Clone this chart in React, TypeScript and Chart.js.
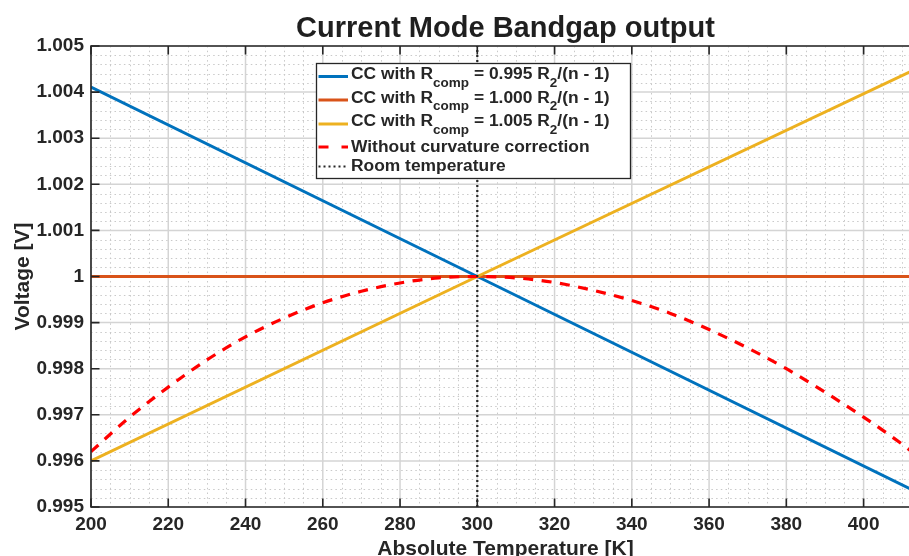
import React, { useEffect, useRef } from 'react';
import { Chart, registerables } from 'chart.js';

Chart.register(...registerables);

// ---------- data ----------
const X_MIN = 200;
const X_MAX = 414.6;
const Y_MIN = 0.995;
const Y_MAX = 1.005;

const blueT = [200, 300, 414.6];
const blueV = [1.00411, 1.0, 0.99529];

const orangeT = [200, 414.6];
const orangeV = [1.0, 1.0];

const yellowT = [200, 300, 414.6];
const yellowV = [0.996, 1.0, 1.00454];

const redT = [200, 210, 220, 230, 240, 250, 260, 270, 280, 290, 300, 310, 320, 330, 340, 350, 360, 370, 380, 390, 400, 410, 414.6];
const redV = [0.9962, 0.99695, 0.9976, 0.99819, 0.99869, 0.9991, 0.99943, 0.99968, 0.99986, 0.99997, 1.0, 0.99997, 0.99987, 0.9997, 0.99948, 0.9992, 0.99885, 0.99845, 0.998, 0.99749, 0.99695, 0.99636, 0.99606];

const roomT = [300, 300];
const roomV = [0.995, 1.005];

const xTicks = [200, 220, 240, 260, 280, 300, 320, 340, 360, 380, 400];
const yTicks = [0.995, 0.996, 0.997, 0.998, 0.999, 1, 1.001, 1.002, 1.003, 1.004, 1.005];
const xMinorStep = 5;
const yMinorCount = 50; // 0.0002 steps

const titleText = 'Current Mode Bandgap output';
const xTitle = 'Absolute Temperature [K]';
const yTitle = 'Voltage [V]';

type Seg = { t: string; sub?: boolean };
const legendRows: { segs: Seg[]; color: string; kind: 'solid' | 'dash' | 'dot' }[] = [
  { segs: [{ t: 'CC with R' }, { t: 'comp', sub: true }, { t: ' = 0.995 R' }, { t: '2', sub: true }, { t: '/(n - 1)' }], color: '#0072BD', kind: 'solid' },
  { segs: [{ t: 'CC with R' }, { t: 'comp', sub: true }, { t: ' = 1.000 R' }, { t: '2', sub: true }, { t: '/(n - 1)' }], color: '#D95319', kind: 'solid' },
  { segs: [{ t: 'CC with R' }, { t: 'comp', sub: true }, { t: ' = 1.005 R' }, { t: '2', sub: true }, { t: '/(n - 1)' }], color: '#EDB120', kind: 'solid' },
  { segs: [{ t: 'Without curvature correction' }], color: '#FF0000', kind: 'dash' },
  { segs: [{ t: 'Room temperature' }], color: '#262626', kind: 'dot' },
];

// ---------- styles ----------
const FONT = '"Liberation Sans", Arial, Helvetica, sans-serif';
const TEXT = '#262626';
const LEG_BOX = { l: 316, t: 63, r: 630, b: 178 };
const LEG_LINE_Y = [76.5, 100, 124, 147, 166.5];
const LEG_BASE_Y = [79, 102.5, 126, 151.8, 171.3];

const pts = (t: number[], v: number[]) => t.map((x, i) => ({ x, y: v[i] }));

const decor = {
  id: 'matlabDecor',
  beforeDatasetsDraw(chart: any) {
    const { ctx, chartArea: a, scales } = chart;
    const x = scales.x;
    const y = scales.y;
    ctx.save();
    // minor grid
    ctx.strokeStyle = '#c9c9c9';
    ctx.lineWidth = 1;
    ctx.setLineDash([1.5, 3.2]);
    for (let i = 0; X_MIN + i * xMinorStep <= X_MAX; i++) {
      if (i % 4 === 0) continue;
      const px = Math.round(x.getPixelForValue(X_MIN + i * xMinorStep)) + 0.5;
      ctx.beginPath();
      ctx.moveTo(px, a.top);
      ctx.lineTo(px, a.bottom);
      ctx.stroke();
    }
    for (let i = 0; i <= yMinorCount; i++) {
      if (i % 5 === 0) continue;
      const py = Math.round(y.getPixelForValue(Y_MIN + (i * (Y_MAX - Y_MIN)) / yMinorCount)) + 0.5;
      ctx.beginPath();
      ctx.moveTo(a.left, py);
      ctx.lineTo(a.right, py);
      ctx.stroke();
    }
    // major grid
    ctx.setLineDash([]);
    ctx.strokeStyle = '#d4d4d4';
    ctx.lineWidth = 1.5;
    xTicks.forEach((v) => {
      const px = x.getPixelForValue(v);
      ctx.beginPath();
      ctx.moveTo(px, a.top);
      ctx.lineTo(px, a.bottom);
      ctx.stroke();
    });
    yTicks.forEach((v) => {
      const py = y.getPixelForValue(v);
      ctx.beginPath();
      ctx.moveTo(a.left, py);
      ctx.lineTo(a.right, py);
      ctx.stroke();
    });
    ctx.restore();
  },
  afterDatasetsDraw(chart: any) {
    const { ctx, chartArea: a, scales } = chart;
    const x = scales.x;
    const y = scales.y;
    ctx.save();
    // axes box
    ctx.strokeStyle = TEXT;
    ctx.lineWidth = 1.6;
    ctx.setLineDash([]);
    ctx.beginPath();
    ctx.rect(a.left, a.top, a.right - a.left, a.bottom - a.top);
    ctx.stroke();
    // inward ticks
    const TL = 8.5;
    ctx.beginPath();
    xTicks.forEach((v) => {
      const px = x.getPixelForValue(v);
      ctx.moveTo(px, a.bottom);
      ctx.lineTo(px, a.bottom - TL);
      ctx.moveTo(px, a.top);
      ctx.lineTo(px, a.top + TL);
    });
    yTicks.forEach((v) => {
      const py = y.getPixelForValue(v);
      ctx.moveTo(a.left, py);
      ctx.lineTo(a.left + TL, py);
      ctx.moveTo(a.right, py);
      ctx.lineTo(a.right - TL, py);
    });
    ctx.stroke();

    // legend
    ctx.fillStyle = '#ffffff';
    ctx.fillRect(LEG_BOX.l, LEG_BOX.t, LEG_BOX.r - LEG_BOX.l, LEG_BOX.b - LEG_BOX.t);
    ctx.strokeStyle = TEXT;
    ctx.lineWidth = 1.3;
    ctx.strokeRect(LEG_BOX.l + 0.5, LEG_BOX.t + 0.5, LEG_BOX.r - LEG_BOX.l, LEG_BOX.b - LEG_BOX.t);
    legendRows.forEach((row, i) => {
      const ly = LEG_LINE_Y[i];
      ctx.strokeStyle = row.color;
      if (row.kind === 'solid') {
        ctx.lineWidth = 3;
        ctx.setLineDash([]);
      } else if (row.kind === 'dash') {
        ctx.lineWidth = 3.2;
        ctx.setLineDash([10, 13]);
      } else {
        ctx.lineWidth = 2.2;
        ctx.setLineDash([2, 3]);
      }
      ctx.beginPath();
      ctx.moveTo(318.5, ly);
      ctx.lineTo(348, ly);
      ctx.stroke();
      ctx.setLineDash([]);
      let tx = 351;
      const by = LEG_BASE_Y[i];
      ctx.fillStyle = TEXT;
      ctx.textBaseline = 'alphabetic';
      ctx.textAlign = 'left';
      row.segs.forEach((s) => {
        ctx.font = s.sub ? `bold 13.5px ${FONT}` : `bold 17.4px ${FONT}`;
        ctx.fillText(s.t, tx, s.sub ? by + 7.5 : by);
        tx += ctx.measureText(s.t).width;
      });
    });
    ctx.restore();
  },
  afterDraw(chart: any) {
    const { ctx, chartArea: a } = chart;
    ctx.save();
    ctx.fillStyle = '#1f1f1f';
    ctx.textAlign = 'center';
    ctx.textBaseline = 'alphabetic';
    ctx.font = `bold 29px ${FONT}`;
    ctx.fillText(titleText, (a.left + a.right) / 2, 36.5);
    ctx.fillStyle = TEXT;
    ctx.font = `bold 21px ${FONT}`;
    ctx.fillText(xTitle, (a.left + a.right) / 2, 555);
    ctx.translate(28.5, (a.top + a.bottom) / 2);
    ctx.rotate(-Math.PI / 2);
    ctx.fillText(yTitle, 0, 0);
    ctx.restore();
  },
};

export default function App() {
  const ref = useRef<HTMLCanvasElement>(null);
  useEffect(() => {
    if (!ref.current) return;
    const chart = new Chart(ref.current, {
      type: 'line',
      data: {
        datasets: [
          { label: 'Room temperature', data: pts(roomT, roomV), borderColor: '#262626', borderWidth: 2.2, borderDash: [2, 3], pointRadius: 0, order: 0 },
          { label: 'Without curvature correction', data: pts(redT, redV), borderColor: '#FF0000', borderWidth: 3.2, borderDash: [10, 8.5], pointRadius: 0, cubicInterpolationMode: 'monotone', order: 1 },
          { label: 'CC 1.005', data: pts(yellowT, yellowV), borderColor: '#EDB120', borderWidth: 3, pointRadius: 0, order: 2 },
          { label: 'CC 1.000', data: pts(orangeT, orangeV), borderColor: '#D95319', borderWidth: 3, pointRadius: 0, order: 3 },
          { label: 'CC 0.995', data: pts(blueT, blueV), borderColor: '#0072BD', borderWidth: 3, pointRadius: 0, order: 4 },
        ] as any,
      },
      options: {
        animation: false,
        responsive: false,
        devicePixelRatio: 1,
        events: [],
        layout: { padding: { top: 46, left: 0, right: 0, bottom: 0 } },
        plugins: { legend: { display: false }, title: { display: false }, tooltip: { enabled: false } },
        scales: {
          x: {
            type: 'linear',
            min: X_MIN,
            max: X_MAX,
            afterBuildTicks: (s: any) => {
              s.ticks = xTicks.map((v) => ({ value: v }));
            },
            afterFit: (s: any) => {
              s.height = 49;
            },
            grid: { display: false, drawTicks: false },
            border: { display: false },
            ticks: {
              autoSkip: false,
              maxRotation: 0,
              padding: 6,
              color: TEXT,
              font: { family: FONT, size: 19, weight: 'bold' },
              callback: (v: any) => String(v),
            },
          },
          y: {
            type: 'linear',
            min: Y_MIN,
            max: Y_MAX,
            afterBuildTicks: (s: any) => {
              s.ticks = yTicks.map((v) => ({ value: v }));
            },
            afterFit: (s: any) => {
              s.width = 91;
            },
            grid: { display: false, drawTicks: false },
            border: { display: false },
            ticks: {
              autoSkip: false,
              padding: 7,
              color: TEXT,
              font: { family: FONT, size: 19, weight: 'bold' },
              callback: (v: any) => String(parseFloat(Number(v).toFixed(3))),
            },
          },
        },
      } as any,
      plugins: [decor],
    });
    return () => chart.destroy();
  }, []);
  return (
    <div style={{ position: 'fixed', left: 0, top: 0, width: 909, height: 556, overflow: 'hidden', background: '#fff' }}>
      <canvas ref={ref} width={920} height={556} style={{ display: 'block', width: 920, height: 556 }} />
    </div>
  );
}
